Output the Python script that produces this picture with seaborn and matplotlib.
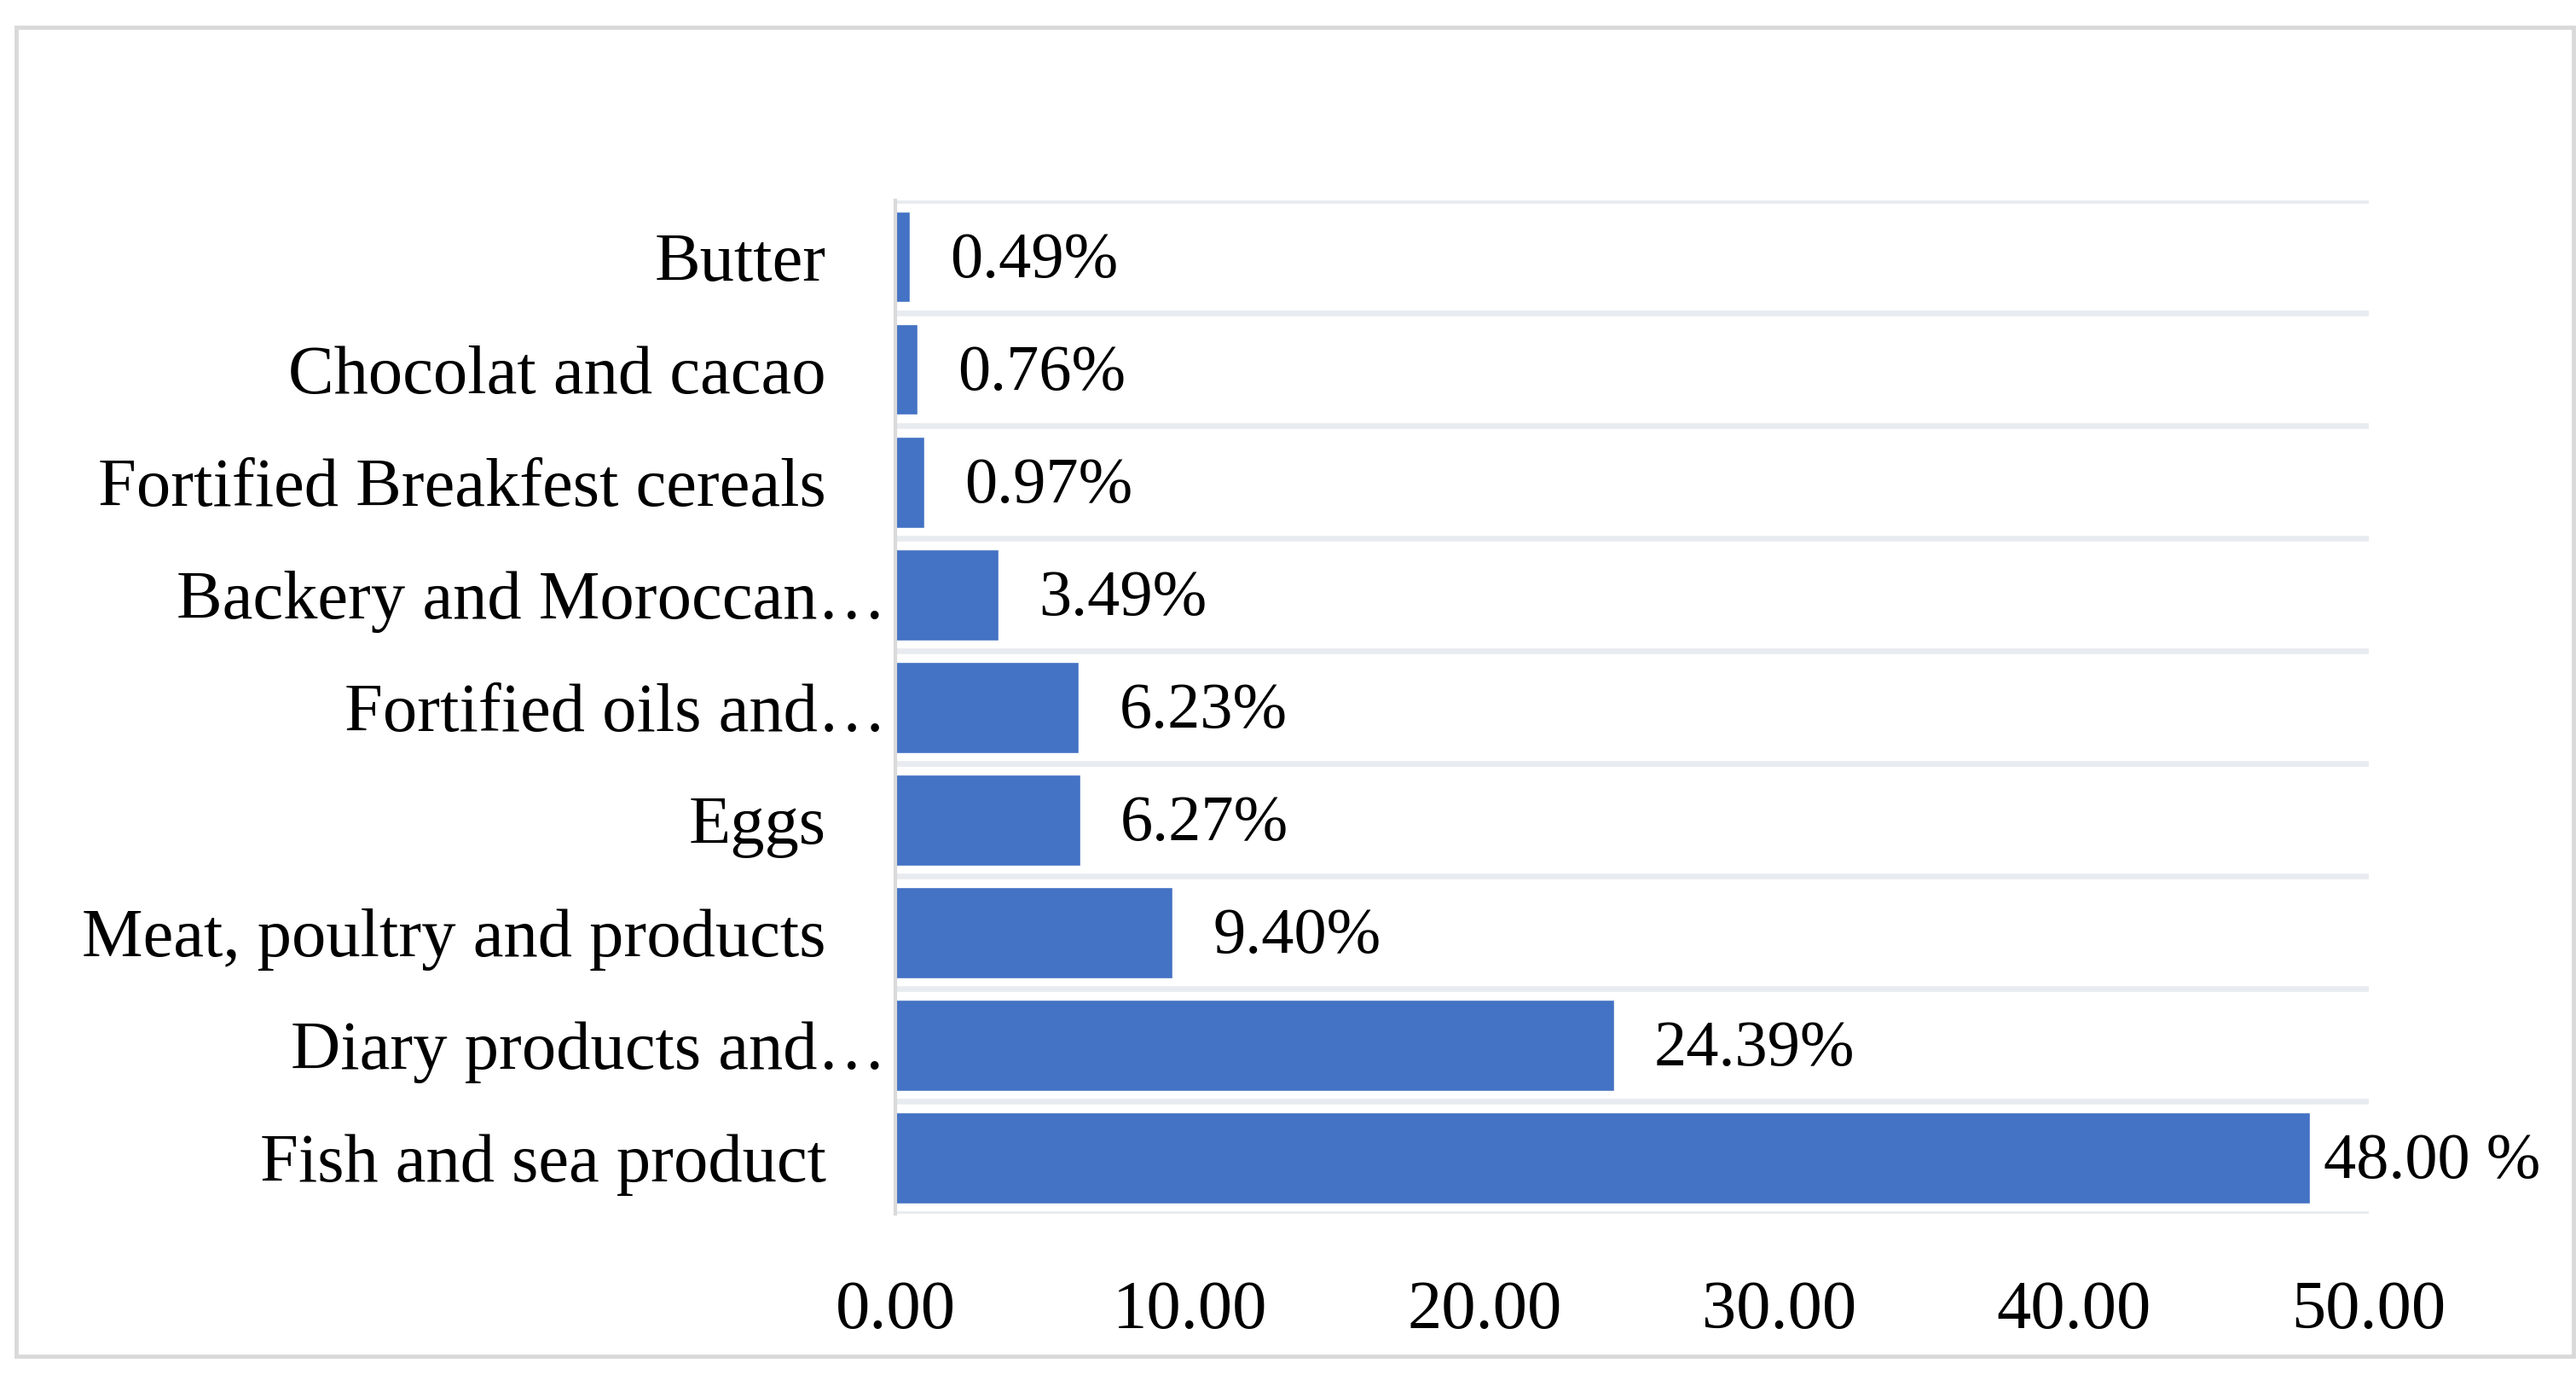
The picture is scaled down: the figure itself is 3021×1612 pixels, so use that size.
import numpy as np
import matplotlib.pyplot as plt
import matplotlib.transforms as mtransforms
from matplotlib.patches import Rectangle
import seaborn as sns

# food groups, top to bottom as in the chart
foods = [
    "Butter",
    "Chocolat and cacao",
    "Fortified Breakfest cereals",
    "Backery and Moroccan\u2026",
    "Fortified oils and\u2026",
    "Eggs",
    "Meat, poultry and products",
    "Diary products and\u2026",
    "Fish and sea product",
]
shares = [0.49, 0.76, 0.97, 3.49, 6.23, 6.27, 9.40, 24.39, 48.00]
value_labels = ["0.49%", "0.76%", "0.97%", "3.49%", "6.23%", "6.27%",
                "9.40%", "24.39%", "48.00 %"]
x_ticks = [0, 10, 20, 30, 40, 50]

sns.set_theme(style="white")
plt.rcParams["font.family"] = ["Liberation Serif", "DejaVu Serif"]
fs = 58

fig = plt.figure(figsize=(30.21, 16.12), dpi=100)
ax = fig.add_axes([0.3476, 0.1172, 0.9195 - 0.3476, 0.8542 - 0.1172])

sns.barplot(x=shares, y=foods, orient="h", color="#4472C4", saturation=1,
            width=0.81, ax=ax)

ax.set_xlim(0, 50)
ax.set_ylim(8.5, -0.5)
ax.set_xticks(x_ticks)
ax.set_xticklabels([f"{t:.2f}" for t in x_ticks], fontsize=fs, color="black")
ax.tick_params(axis="x", length=0, pad=56)
ax.tick_params(axis="y", length=0, pad=8, labelsize=fs, labelcolor="black")
ax.set_xlabel("")
ax.set_ylabel("")

# gridlines between categories
ax.set_yticks(np.arange(-0.5, 9, 1), minor=True)
ax.tick_params(axis="y", which="minor", length=0)
ax.grid(False)
ax.grid(which="minor", axis="y", color="#E8EBEF", linewidth=4.8)
ax.set_axisbelow(True)

for side in ["top", "right", "bottom"]:
    ax.spines[side].set_visible(False)
ax.spines["left"].set_color("#D9D9D9")
ax.spines["left"].set_linewidth(3)

# full labels sit a little further from the axis than truncated ones
shift = mtransforms.ScaledTranslation(-70 / 100, 0, fig.dpi_scale_trans)
for lbl in ax.get_yticklabels():
    if not lbl.get_text().endswith("\u2026"):
        lbl.set_transform(lbl.get_transform() + shift)

for i, (patch, lab) in enumerate(zip(ax.patches, value_labels)):
    pad = 12 if i == len(value_labels) - 1 else 34
    ax.annotate(lab, (patch.get_width(), patch.get_y() + patch.get_height() / 2),
                xytext=(pad, -4), textcoords="offset points",
                va="center", ha="left", fontsize=55, color="black")

# outer frame
fig.patches.append(Rectangle((19 / 3021, 22 / 1612), 2999 / 3021, 1558 / 1612,
                             transform=fig.transFigure, fill=False,
                             edgecolor="#D9D9D9", linewidth=3.5))

fig.savefig("out.png", dpi=100)
